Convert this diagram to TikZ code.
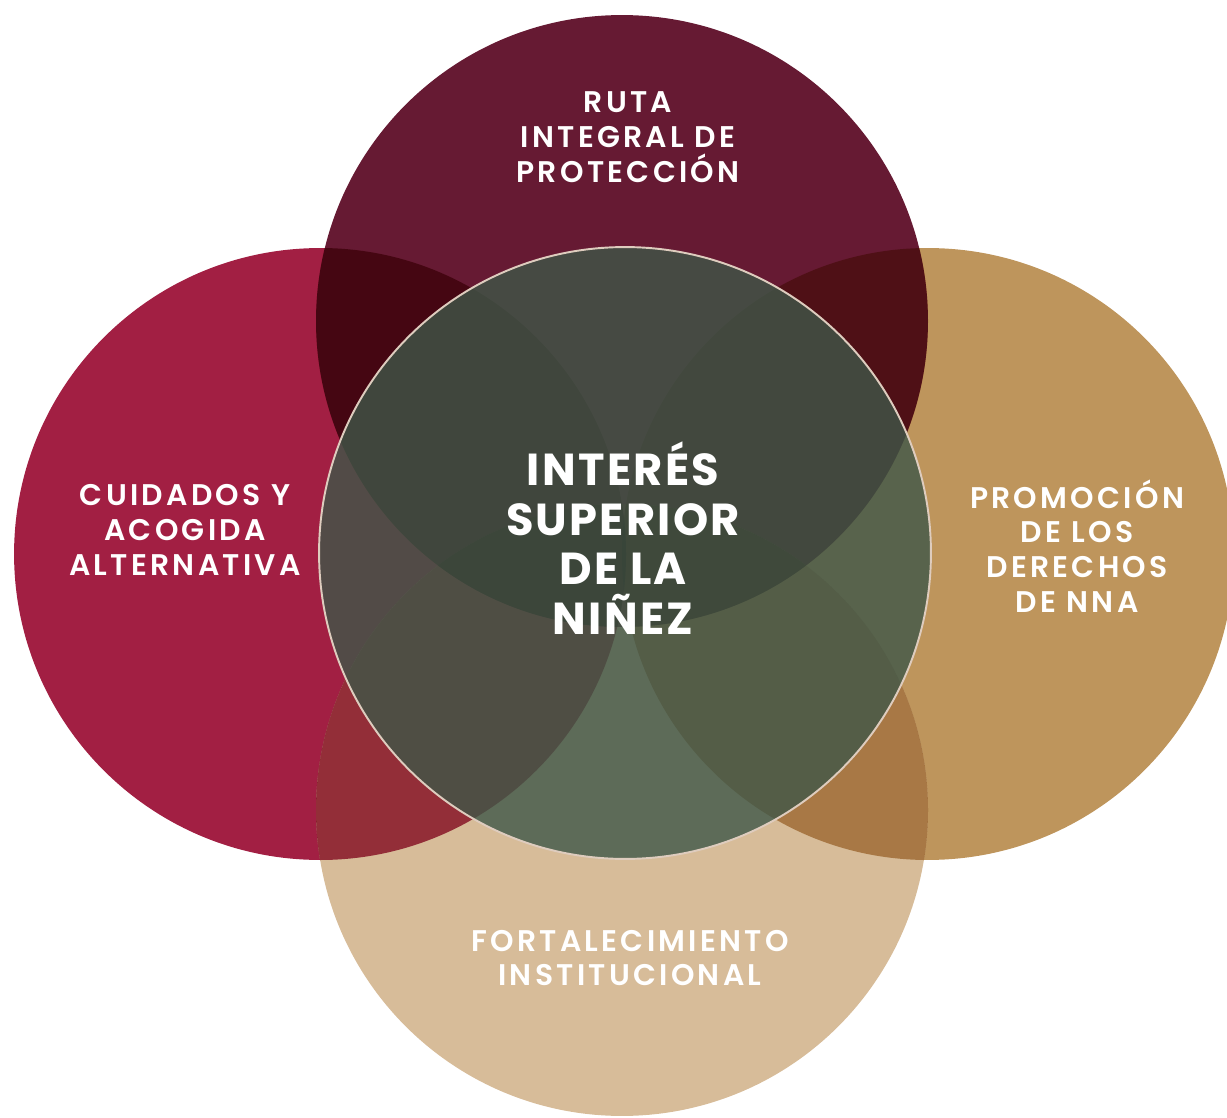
\documentclass[tikz,border=0pt]{standalone}
\usepackage{fontspec}
\setmainfont{Poppins}
\newfontfamily\ringfont{Poppins SemiBold}[LetterSpace=11]
\newfontfamily\corefont{Poppins}[LetterSpace=5]
\usetikzlibrary{positioning}
\definecolor{ruta}{RGB}{102,26,51}
\definecolor{cuidados}{RGB}{162,31,67}
\definecolor{promocion}{RGB}{190,149,92}
\definecolor{fortalec}{RGB}{215,188,153}
\definecolor{interes}{RGB}{63,87,72}
\definecolor{borde}{RGB}{222,204,190}

\begin{document}
\begin{tikzpicture}[x=0.02cm,y=-0.02cm,
    area/.style={circle,minimum size=12.24cm,inner sep=0pt},
    shade in/.style={blend mode=multiply,fill opacity=0.85},
    ringtext/.style={text=white,align=center,font=\ringfont\fontsize{17}{19.8}\selectfont},
    coretext/.style={text=white,align=center,font=\corefont\bfseries\fontsize{25.5}{28.3}\selectfont}]

    \clip (0,0) rectangle (1227,1118);

    % outer rings
    \node[area,fill=cuidados] (cuid) at (320,554) {};
    \node[area,fill=promocion] (prom) at (928,554) {};
    \node[area,fill=ruta] (ruta) at (622,321) {};
    \node[area,fill=fortalec] (fort) at (622,810) {};

    % overlaps
    \begin{scope}
      \clip (ruta.center) circle[radius=306];
      \fill[shade in,cuidados] (cuid.center) circle[radius=306];
      \fill[shade in,promocion] (prom.center) circle[radius=306];
    \end{scope}
    \begin{scope}
      \clip (fort.center) circle[radius=306];
      \fill[shade in,cuidados] (cuid.center) circle[radius=306];
      \fill[shade in,promocion] (prom.center) circle[radius=306];
      \fill[shade in,ruta] (ruta.center) circle[radius=306];
    \end{scope}

    % centre
    \node[area,fill=interes,fill opacity=0.8,draw=borde,line width=1.1pt] (core) at (625,553) {};

    \node[ringtext] (rutatxt) at (628,137) {RUTA\\INTEGRAL DE\\PROTECCIÓN};
    \node[ringtext] (cuidtxt) at (185,530) {CUIDADOS Y\\ACOGIDA\\ALTERNATIVA};
    \node[ringtext] (promtxt) at (1077,546) {PROMOCIÓN\\DE LOS\\DERECHOS\\DE NNA};
    \node[ringtext] (forttxt) at (630,958) {FORTALECIMIENTO\\INSTITUCIONAL};
    \node[coretext] (coretxt) at (623,538) {INTERÉS\\SUPERIOR\\DE LA\\NIÑEZ};
\end{tikzpicture}
\end{document}
